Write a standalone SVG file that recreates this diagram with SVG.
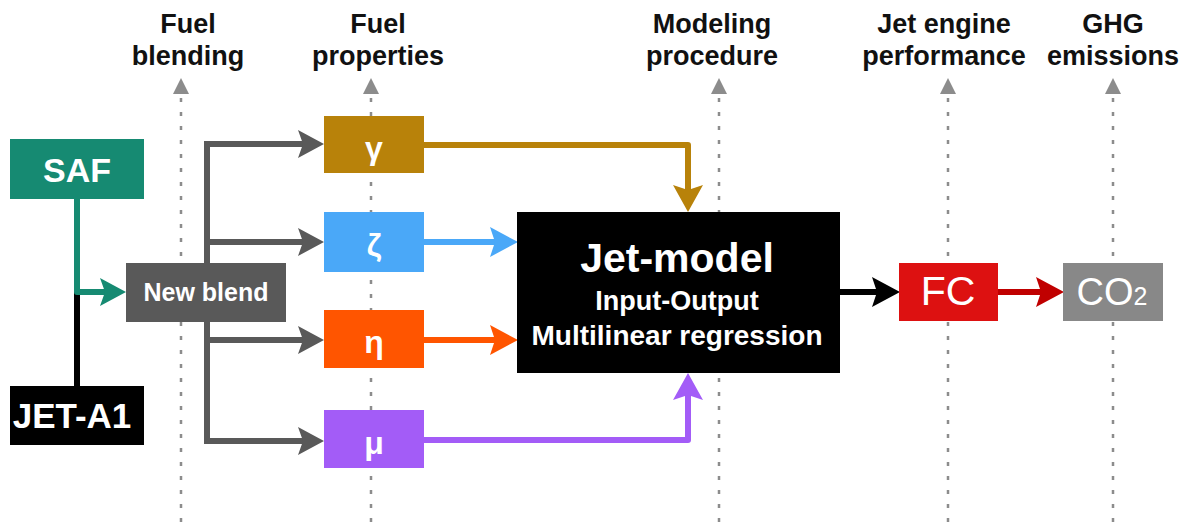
<svg xmlns="http://www.w3.org/2000/svg" width="1186" height="522" viewBox="0 0 1186 522">
<style>
.hdr{font-family:"Liberation Sans",Arial,sans-serif;font-weight:bold;font-size:27px;fill:#111;text-anchor:middle}
.lbl{font-family:"Liberation Sans",Arial,sans-serif;font-weight:bold;fill:#fff;text-anchor:middle}
.reg{font-family:"Liberation Sans",Arial,sans-serif;fill:#fff;text-anchor:middle}
.guide{stroke:#8c8c8c;stroke-width:2.5;stroke-dasharray:4 10;fill:none}
.conn{fill:none;stroke-width:6;stroke-linejoin:round}
</style>
<defs>
<marker id="ahGray" markerUnits="userSpaceOnUse" markerWidth="28" markerHeight="28" refX="14" refY="14" orient="auto"><path d="M0,0 L26,14 L0,28 L5,14 z" fill="#595959"/></marker>
<marker id="ahTeal" markerUnits="userSpaceOnUse" markerWidth="28" markerHeight="28" refX="14" refY="14" orient="auto"><path d="M0,0 L26,14 L0,28 L5,14 z" fill="#168a72"/></marker>
<marker id="ahGold" markerUnits="userSpaceOnUse" markerWidth="30" markerHeight="30" refX="15" refY="15" orient="auto"><path d="M0,0 L27,15 L0,30 L5,15 z" fill="#b8820a"/></marker>
<marker id="ahBlue" markerUnits="userSpaceOnUse" markerWidth="30" markerHeight="30" refX="15" refY="15" orient="auto"><path d="M0,0 L28,15 L0,30 L5,15 z" fill="#4aa8f8"/></marker>
<marker id="ahOrange" markerUnits="userSpaceOnUse" markerWidth="30" markerHeight="30" refX="15" refY="15" orient="auto"><path d="M0,0 L28,15 L0,30 L5,15 z" fill="#ff5500"/></marker>
<marker id="ahPurple" markerUnits="userSpaceOnUse" markerWidth="30" markerHeight="30" refX="15" refY="15" orient="auto"><path d="M0,0 L27,15 L0,30 L5,15 z" fill="#a35cf7"/></marker>
<marker id="ahBlack" markerUnits="userSpaceOnUse" markerWidth="30" markerHeight="30" refX="15" refY="15" orient="auto"><path d="M0,0 L28,15 L0,30 L5,15 z" fill="#000"/></marker>
<marker id="ahRed" markerUnits="userSpaceOnUse" markerWidth="30" markerHeight="30" refX="15" refY="15" orient="auto"><path d="M0,0 L28,15 L0,30 L5,15 z" fill="#c00000"/></marker>
<marker id="ahGuide" markerUnits="userSpaceOnUse" markerWidth="16" markerHeight="16" refX="8" refY="8" orient="auto"><path d="M0,0 L16,8 L0,16 z" fill="#8c8c8c"/></marker>
</defs>
<rect width="1186" height="522" fill="#fff"/>

<g id="headers">
<text class="hdr" x="188" y="33">Fuel</text>
<text class="hdr" x="188" y="65">blending</text>
<text class="hdr" x="378" y="33">Fuel</text>
<text class="hdr" x="378" y="65">properties</text>
<text class="hdr" x="712" y="33">Modeling</text>
<text class="hdr" x="712" y="65">procedure</text>
<text class="hdr" x="944" y="33">Jet engine</text>
<text class="hdr" x="944" y="65">performance</text>
<text class="hdr" x="1113" y="33">GHG</text>
<text class="hdr" x="1113" y="65">emissions</text>
</g>

<g id="guides">
<path class="guide" d="M181,522 V86" marker-end="url(#ahGuide)"/>
<path class="guide" d="M371,522 V86" marker-end="url(#ahGuide)"/>
<path class="guide" d="M719,522 V86" marker-end="url(#ahGuide)"/>
<path class="guide" d="M948,522 V86" marker-end="url(#ahGuide)"/>
<path class="guide" d="M1113,522 V86" marker-end="url(#ahGuide)"/>
</g>

<g id="connectors">
<path class="conn" d="M77,292 V386" stroke="#000" stroke-width="5"/>
<path class="conn" d="M77,199 V292 H114" stroke="#168a72" stroke-width="5" marker-end="url(#ahTeal)"/>
<path class="conn" d="M207,144 V441" stroke="#595959" stroke-linecap="square"/>
<path class="conn" d="M207,144 H312" stroke="#595959" marker-end="url(#ahGray)"/>
<path class="conn" d="M207,242 H312" stroke="#595959" marker-end="url(#ahGray)"/>
<path class="conn" d="M207,340 H312" stroke="#595959" marker-end="url(#ahGray)"/>
<path class="conn" d="M207,441 H312" stroke="#595959" marker-end="url(#ahGray)"/>
<path class="conn" d="M424,145 H688 V200" stroke="#b8820a" marker-end="url(#ahGold)"/>
<path class="conn" d="M424,242 H505" stroke="#4aa8f8" marker-end="url(#ahBlue)"/>
<path class="conn" d="M424,340 H505" stroke="#ff5500" marker-end="url(#ahOrange)"/>
<path class="conn" d="M424,440 H688 V385" stroke="#a35cf7" marker-end="url(#ahPurple)"/>
<path class="conn" d="M840,292 H887" stroke="#000" marker-end="url(#ahBlack)"/>
<path class="conn" d="M998,292 H1051" stroke="#c00000" marker-end="url(#ahRed)"/>
</g>

<g id="saf">
<rect x="10" y="139" width="134" height="60" fill="#168a72"/>
<text class="lbl" x="77" y="182" font-size="34">SAF</text>
</g>
<g id="jeta1">
<rect x="10" y="386" width="134" height="59" fill="#000"/>
<text class="lbl" x="72" y="428" font-size="35">JET-A1</text>
</g>
<g id="newblend">
<rect x="126" y="263" width="160" height="59" fill="#595959"/>
<text class="lbl" x="206" y="301" font-size="25">New blend</text>
</g>
<g id="gamma">
<rect x="324" y="116" width="100" height="57" fill="#b8820a"/>
<text class="lbl" x="374" y="159" font-size="32">γ</text>
</g>
<g id="zeta">
<rect x="324" y="212" width="100" height="60" fill="#4aa8f8"/>
<text class="lbl" x="374" y="256" font-size="32">ζ</text>
</g>
<g id="eta">
<rect x="324" y="310" width="100" height="58" fill="#ff5500"/>
<text class="lbl" x="374" y="353" font-size="32">η</text>
</g>
<g id="mu">
<rect x="324" y="410" width="100" height="58" fill="#a35cf7"/>
<text class="lbl" x="374" y="454" font-size="32">μ</text>
</g>
<g id="jetmodel">
<rect x="517" y="212" width="323" height="161" fill="#000"/>
<text class="lbl" x="677" y="272" font-size="41">Jet-model</text>
<text class="lbl" x="677" y="310" font-size="27">Input-Output</text>
<text class="lbl" x="677" y="345" font-size="28">Multilinear regression</text>
</g>
<g id="fc">
<rect x="899" y="263" width="99" height="58" fill="#dd1111"/>
<text class="reg" x="948" y="305" font-size="41">FC</text>
</g>
<g id="co2">
<rect x="1063" y="263" width="100" height="58" fill="#888888"/>
<text class="reg" x="1112" y="305" font-size="38">CO<tspan font-size="25">2</tspan></text>
</g>
</svg>
